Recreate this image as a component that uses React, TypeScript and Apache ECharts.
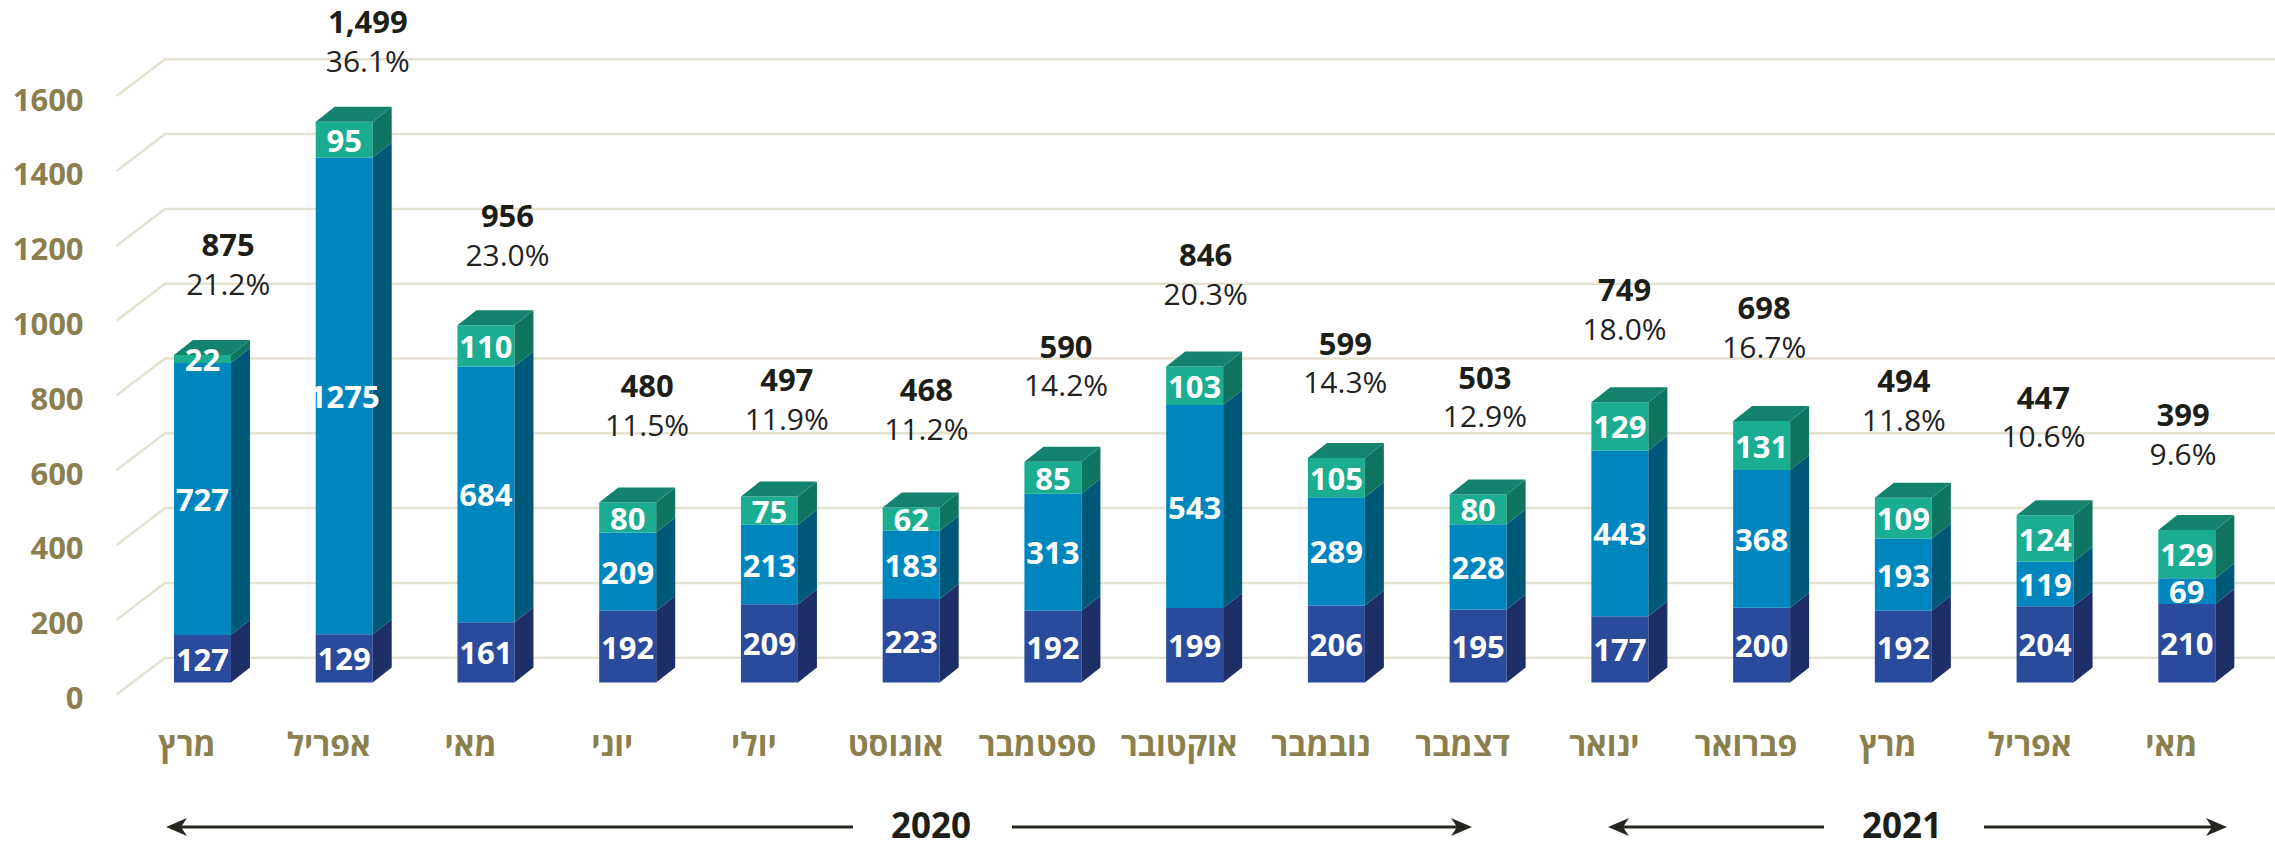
import React, { useEffect, useRef } from "react";
import * as echarts from "echarts";

const categories = ["מרץ", "אפריל", "מאי", "יוני", "יולי", "אוגוסט", "ספטמבר", "אוקטובר", "נובמבר", "דצמבר", "ינואר", "פברואר", "מרץ", "אפריל", "מאי"];
const darkValues = [127, 129, 161, 192, 209, 223, 192, 199, 206, 195, 177, 200, 192, 204, 210];
const midValues = [727, 1275, 684, 209, 213, 183, 313, 543, 289, 228, 443, 368, 193, 119, 69];
const tealValues = [22, 95, 110, 80, 75, 62, 85, 103, 105, 80, 129, 131, 109, 124, 129];
const totals = [875, 1499, 956, 480, 497, 468, 590, 846, 599, 503, 749, 698, 494, 447, 399];
const shares = ["21.2%", "36.1%", "23.0%", "11.5%", "11.9%", "11.2%", "14.2%", "20.3%", "14.3%", "12.9%", "18.0%", "16.7%", "11.8%", "10.6%", "9.6%"];
const yTicks = [0, 200, 400, 600, 800, 1000, 1200, 1400, 1600];
const years = ["2020", "2021"];

const FONT = "'Open Sans', 'DejaVu Sans', sans-serif";
const OLIVE = "#8B7F4E";
const DARK_TEXT = "#1E1E18";

const SEG_COLORS = [
  { front: "#2A4B9B", side: "#1D2F66", top: "#1D2F66" },
  { front: "#0086BE", side: "#005878", top: "#005878" },
  { front: "#1AAD90", side: "#107560", top: "#13836D" },
];

const FRONT_W = 57;
const DEPTH_X = 19;
const DEPTH_Y = 15;
const BASE_SHIFT = 14.5;

export default function App() {
  const ref = useRef<HTMLDivElement>(null);

  useEffect(() => {
    if (!ref.current) return;
    const chart = echarts.init(ref.current, undefined, { renderer: "svg" });

    const barData = categories.map((_, i) => [i, darkValues[i], midValues[i], tealValues[i]]);
    const labelData = categories.map((_, i) => [i, totals[i]]);
    const gridData = yTicks.map((v) => [0, v]);

    const option: any = {
      animation: false,
      backgroundColor: "#ffffff",
      grid: [
        { left: 131.6, right: 17.3, top: 98.6, bottom: 146 },
        { left: 158.4, right: 22.1, top: 20.9, bottom: 286.4 },
      ],
      xAxis: [
        {
          type: "category",
          gridIndex: 0,
          data: categories,
          axisLine: { show: false },
          axisTick: { show: false },
          axisLabel: {
            color: OLIVE,
            fontFamily: FONT,
            fontWeight: "bold",
            fontSize: 32,
            lineHeight: 32,
            margin: 30,
            padding: [0, 31, 0, 0],
            interval: 0,
          },
        },
        {
          type: "category",
          gridIndex: 1,
          data: categories,
          show: false,
        },
      ],
      yAxis: [
        {
          type: "value",
          gridIndex: 0,
          min: 0,
          max: 1600,
          interval: 200,
          splitLine: { show: false },
          axisLine: { show: false },
          axisTick: { show: false },
          axisLabel: {
            color: OLIVE,
            fontFamily: FONT,
            fontWeight: "bold",
            fontSize: 31,
            lineHeight: 31,
            margin: 48,
            formatter: (v: number) => String(v),
          },
        },
        {
          type: "value",
          gridIndex: 1,
          min: 0,
          max: 1500,
          show: false,
        },
      ],
      series: [
        {
          type: "custom",
          name: "gridlines",
          xAxisIndex: 0,
          yAxisIndex: 0,
          clip: false,
          silent: true,
          data: gridData,
          encode: { x: 0, y: 1 },
          renderItem: (params: any, api: any) => {
            const v = api.value(1);
            const y = api.coord([0, v])[1];
            const left = params.coordSys.x;
            return {
              type: "polyline",
              shape: {
                points: [
                  [left - 15, y - 2.5],
                  [left + 33.4, y - 39.3],
                  [api.getWidth(), y - 39.3],
                ],
              },
              style: { stroke: "#E5E1D0", lineWidth: 2.5, fill: "none" },
            };
          },
        },
        {
          type: "custom",
          name: "bars",
          xAxisIndex: 0,
          yAxisIndex: 0,
          clip: false,
          silent: true,
          data: barData,
          encode: { x: 0, y: [1, 2, 3] },
          renderItem: (params: any, api: any) => {
            const i = api.value(0);
            const vals = [api.value(1), api.value(2), api.value(3)];
            const cx = api.coord([i, 0])[0];
            const fl = cx - FRONT_W / 2;
            const faces: any[] = [];
            const texts: any[] = [];
            let cum = 0;
            vals.forEach((v: number, k: number) => {
              const lo = cum;
              const hi = cum + v;
              cum = hi;
              const yLo = api.coord([i, lo])[1] - BASE_SHIFT;
              const yHi = api.coord([i, hi])[1] - BASE_SHIFT;
              const c = SEG_COLORS[k];
              faces.push({
                type: "rect",
                shape: { x: fl, y: yHi, width: FRONT_W, height: yLo - yHi },
                style: { fill: c.front },
              });
              faces.push({
                type: "polygon",
                shape: {
                  points: [
                    [fl + FRONT_W, yLo],
                    [fl + FRONT_W + DEPTH_X, yLo - DEPTH_Y],
                    [fl + FRONT_W + DEPTH_X, yHi - DEPTH_Y],
                    [fl + FRONT_W, yHi],
                  ],
                },
                style: { fill: c.side },
              });
              if (k === vals.length - 1) {
                faces.push({
                  type: "polygon",
                  shape: {
                    points: [
                      [fl, yHi],
                      [fl + DEPTH_X, yHi - DEPTH_Y],
                      [fl + FRONT_W + DEPTH_X, yHi - DEPTH_Y],
                      [fl + FRONT_W, yHi],
                    ],
                  },
                  style: { fill: c.top },
                });
              }
              texts.push({
                type: "text",
                style: {
                  text: String(v),
                  x: cx,
                  y: (yLo + yHi) / 2,
                  fill: "#ffffff",
                  fontFamily: FONT,
                  fontWeight: "bold",
                  fontSize: 31,
                  lineHeight: 24,
                  align: "center",
                  verticalAlign: "middle",
                },
              });
            });
            return { type: "group", children: faces.concat(texts) };
          },
        },
        {
          type: "custom",
          name: "totals",
          xAxisIndex: 1,
          yAxisIndex: 1,
          clip: false,
          silent: true,
          data: labelData,
          encode: { x: 0, y: 1 },
          renderItem: (params: any, api: any) => {
            const i = api.value(0);
            const t = api.value(1);
            const p = api.coord([i, t]);
            return {
              type: "group",
              children: [
                {
                  type: "text",
                  style: {
                    text: t.toLocaleString("en-US"),
                    x: p[0],
                    y: p[1],
                    fill: DARK_TEXT,
                    fontFamily: FONT,
                    fontWeight: "bold",
                    fontSize: 31,
                    lineHeight: 31,
                    align: "center",
                    verticalAlign: "middle",
                  },
                },
                {
                  type: "text",
                  style: {
                    text: shares[i],
                    x: p[0],
                    y: p[1] + 39,
                    fill: "#222222",
                    fontFamily: FONT,
                    fontWeight: "normal",
                    fontSize: 30,
                    lineHeight: 30,
                    align: "center",
                    verticalAlign: "middle",
                  },
                },
              ],
            };
          },
        },
      ],
      graphic: [
        { type: "line", shape: { x1: 176, y1: 827, x2: 853, y2: 827 }, style: { stroke: "#26261f", lineWidth: 3 } },
        { type: "polygon", shape: { points: [[166, 827], [187, 818], [181, 827], [187, 836]] }, style: { fill: "#26261f" } },
        { type: "line", shape: { x1: 1012, y1: 827, x2: 1462, y2: 827 }, style: { stroke: "#26261f", lineWidth: 3 } },
        { type: "polygon", shape: { points: [[1472, 827], [1451, 818], [1457, 827], [1451, 836]] }, style: { fill: "#26261f" } },
        { type: "text", style: { text: years[0], x: 931, y: 824, fill: DARK_TEXT, fontFamily: FONT, fontWeight: "bold", fontSize: 35, lineHeight: 30, align: "center", verticalAlign: "middle" } },
        { type: "line", shape: { x1: 1618, y1: 827, x2: 1824, y2: 827 }, style: { stroke: "#26261f", lineWidth: 3 } },
        { type: "polygon", shape: { points: [[1608, 827], [1629, 818], [1623, 827], [1629, 836]] }, style: { fill: "#26261f" } },
        { type: "line", shape: { x1: 1984, y1: 827, x2: 2217, y2: 827 }, style: { stroke: "#26261f", lineWidth: 3 } },
        { type: "polygon", shape: { points: [[2227, 827], [2206, 818], [2212, 827], [2206, 836]] }, style: { fill: "#26261f" } },
        { type: "text", style: { text: years[1], x: 1902, y: 824, fill: DARK_TEXT, fontFamily: FONT, fontWeight: "bold", fontSize: 35, lineHeight: 30, align: "center", verticalAlign: "middle" } },
      ],
    };

    chart.setOption(option);
    return () => chart.dispose();
  }, []);

  return (
    <div
      ref={ref}
      style={{ position: "absolute", left: 0, top: 0, width: 2275, height: 843 }}
    />
  );
}
